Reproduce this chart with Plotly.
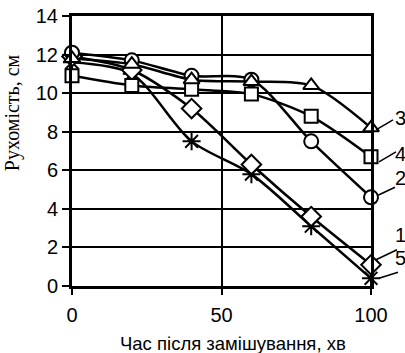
import plotly.graph_objects as go

# ---- data ----
time_min = [0, 20, 40, 60, 80, 100]
series_names = ["1", "2", "3", "4", "5"]
s1 = [11.9, 11.2, 9.2, 6.3, 3.6, 1.1]     # diamonds
s2 = [12.1, 11.7, 10.9, 10.7, 7.5, 4.6]   # circles
s3 = [11.8, 11.5, 10.7, 10.6, 10.4, 8.2]  # triangles
s4 = [10.9, 10.4, 10.2, 9.95, 8.8, 6.7]   # squares
s5 = [11.6, 11.0, 7.5, 5.8, 3.1, 0.4]     # asterisks
y_ticks = [0, 2, 4, 6, 8, 10, 12, 14]
x_ticks = [0, 50, 100]
x_title = "Час після замішування, хв"
y_title = "Рухомість, см"

X_RANGE = [0, 100]
Y_RANGE = [0, 14]

SANS = "Liberation Sans Narrow, Arial Narrow, Liberation Sans, Arial"
SERIF = "Liberation Serif, Times New Roman, serif"

fig = go.Figure()

def add(vals, symbol, size, name, mcolor="white"):
    fig.add_trace(go.Scatter(
        x=time_min, y=vals, mode="lines+markers", name=name,
        line=dict(color="black", width=2.5, shape="spline", smoothing=0.8),
        marker=dict(symbol=symbol, size=size, color=mcolor,
                    line=dict(color="black", width=2)),
        cliponaxis=False, showlegend=False, hoverinfo="skip"))

add(s5, "asterisk-open", 15, "5", mcolor="black")
add(s1, "diamond", 15, "1")
add(s4, "square", 13, "4")
add(s2, "circle", 14, "2")
add(s3, "triangle-up", 14, "3")

# right-side labels with leader lines (pixel offsets from last point)
label_specs = [
    ("3", s3[-1], (5, -2, 22, 8), 10),
    ("4", s4[-1], (8, -5, 25, 5), 3),
    ("2", s2[-1], (7, 2, 24, 10), 6),
    ("1", s1[-1], (5, 5, 26, 15), 17),
    ("5", s5[-1], (8, 0, 27, 6), 7),
]
x_last_frac = (time_min[-1] - X_RANGE[0]) / (X_RANGE[1] - X_RANGE[0])
for txt, yv, (x0, y0, x1, y1), dy in label_specs:
    y_frac = (yv - Y_RANGE[0]) / (Y_RANGE[1] - Y_RANGE[0])
    fig.add_shape(type="line", xref="paper", yref="paper",
                  xsizemode="pixel", ysizemode="pixel",
                  xanchor=x_last_frac, yanchor=y_frac,
                  x0=x0, x1=x1, y0=y0, y1=y1,
                  line=dict(color="black", width=1.5))
    fig.add_annotation(x=x_last_frac, y=y_frac, xref="paper", yref="paper",
                       text=txt, showarrow=False, xanchor="left",
                       xshift=22, yshift=dy,
                       font=dict(family=SANS, size=20, color="black"))

# axis titles
fig.add_annotation(x=0, y=0.64, xref="paper", yref="paper",
                   text=y_title, textangle=-90, showarrow=False,
                   xanchor="center", yanchor="middle", xshift=-60,
                   font=dict(family=SERIF, size=20, color="black"))
fig.add_annotation(x=0.5, y=0, xref="paper", yref="paper",
                   text=x_title, showarrow=False,
                   xanchor="center", yanchor="top", xshift=11, yshift=-45,
                   font=dict(family=SANS, size=18.5, color="black"))

fig.update_xaxes(range=X_RANGE, tickvals=x_ticks, showgrid=True,
                 gridcolor="black", gridwidth=2, zeroline=False,
                 showline=True, mirror=True, linecolor="black", linewidth=3,
                 ticks="outside", ticklen=6, tickwidth=2, tickcolor="black",
                 automargin=False, ticklabelstandoff=3,
                 tickfont=dict(family=SANS, size=20, color="black"))
fig.update_yaxes(range=Y_RANGE, tickvals=y_ticks, showgrid=True,
                 gridcolor="black", gridwidth=2, zeroline=False,
                 showline=True, mirror=True, linecolor="black", linewidth=3,
                 ticks="outside", ticklen=7, tickwidth=2, tickcolor="black",
                 automargin=False,
                 tickfont=dict(family=SANS, size=20, color="black"))

fig.update_layout(width=405, height=353,
                  margin=dict(l=72, r=34, t=16, b=67),
                  plot_bgcolor="white", paper_bgcolor="white",
                  hovermode=False)

fig.write_html("out.html", config={"displayModeBar": False},
               post_script="document.body.style.margin='0';"
                           "document.body.style.padding='0';")
